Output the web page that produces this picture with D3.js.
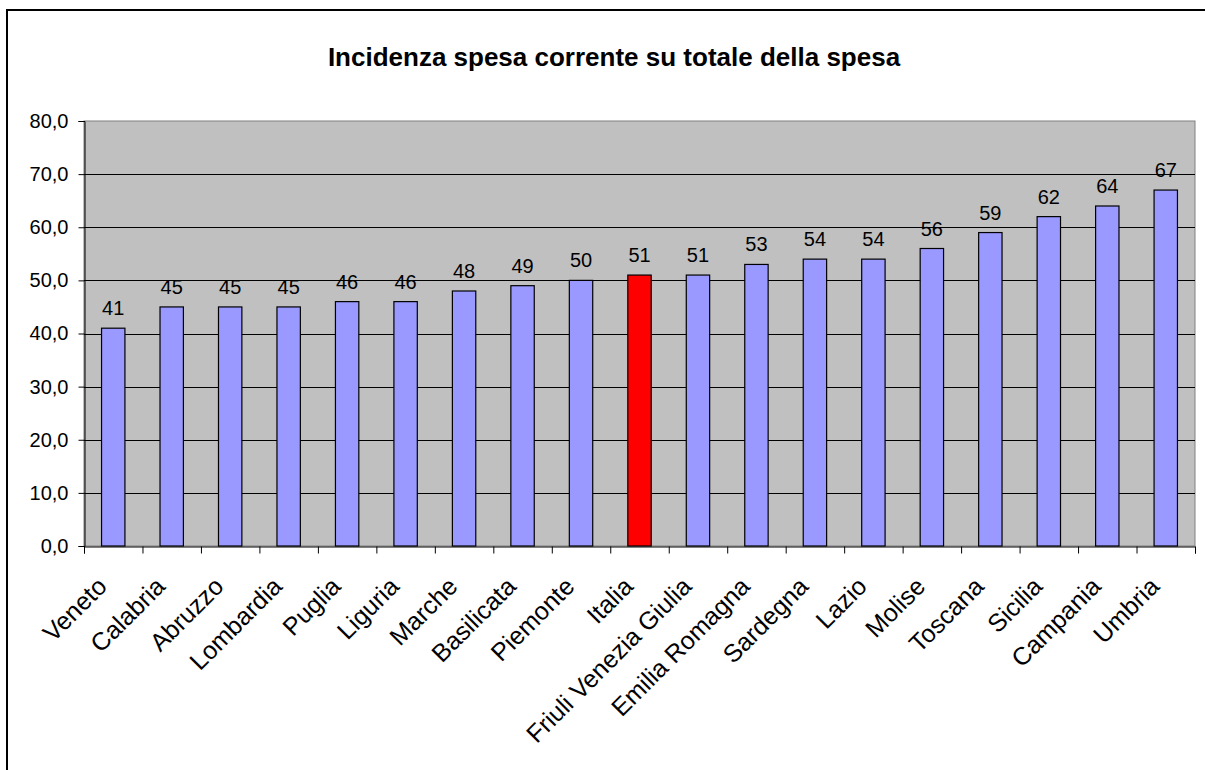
<!DOCTYPE html>
<html>
<head>
<meta charset="utf-8">
<script src="https://cdn.jsdelivr.net/npm/d3@7"></script>
<style>
  html, body { margin: 0; padding: 0; background: #fff; overflow: hidden; }
  svg { display: block; font-family: "Liberation Sans", Arial, sans-serif; }
</style>
</head>
<body>
<svg id="chart" width="1205" height="770"></svg>
<script>
// Regioni ordinate per incidenza della spesa corrente (%)
const regions = ["Veneto", "Calabria", "Abruzzo", "Lombardia", "Puglia", "Liguria", "Marche",
  "Basilicata", "Piemonte", "Italia", "Friuli Venezia Giulia", "Emilia Romagna", "Sardegna",
  "Lazio", "Molise", "Toscana", "Sicilia", "Campania", "Umbria"];
const shares = [41, 45, 45, 45, 46, 46, 48, 49, 50, 51, 51, 53, 54, 54, 56, 59, 62, 64, 67];
const yTicks = [0, 10, 20, 30, 40, 50, 60, 70, 80];
const highlight = "Italia";
const title = "Incidenza spesa corrente su totale della spesa";

const svg = d3.select("#chart");
const plot = { left: 84, right: 1195, top: 121, bottom: 546 };

// outer frame of the chart object (left and top edges fall inside the view)
svg.append("path")
  .attr("d", "M7,770 V10 H1205")
  .attr("fill", "none").attr("stroke", "#000").attr("stroke-width", 2);

svg.append("text")
  .attr("x", 614).attr("y", 66)
  .attr("text-anchor", "middle")
  .attr("font-size", 26).attr("font-weight", "bold")
  .text(title);

const x = d3.scaleBand().domain(regions)
  .range([plot.left, plot.right]).paddingInner(0.6).paddingOuter(0.3);
const xEdge = d3.scaleLinear().domain([0, regions.length]).range([plot.left, plot.right]);
const y = d3.scaleLinear().domain([0, 80]).range([plot.bottom, plot.top]);

// plot area background
svg.append("rect")
  .attr("x", plot.left).attr("y", plot.top)
  .attr("width", plot.right - plot.left).attr("height", plot.bottom - plot.top)
  .attr("fill", "#C0C0C0").attr("stroke", "#808080").attr("stroke-width", 1);

// horizontal gridlines
svg.append("g").selectAll("line")
  .data(yTicks.filter(t => t > 0 && t < 80))
  .join("line")
  .attr("x1", plot.left).attr("x2", plot.right)
  .attr("y1", d => Math.round(y(d)) + 0.5).attr("y2", d => Math.round(y(d)) + 0.5)
  .attr("stroke", "#000").attr("stroke-width", 1);

// bars
svg.append("g").selectAll("rect")
  .data(regions.map((r, i) => ({ r, v: shares[i] })))
  .join("rect")
  .attr("x", d => x(d.r))
  .attr("y", d => y(d.v))
  .attr("width", x.bandwidth())
  .attr("height", d => y(0) - y(d.v))
  .attr("fill", d => d.r === highlight ? "#FF0000" : "#9999FF")
  .attr("stroke", "#000").attr("stroke-width", 1.2);

// value labels
svg.append("g").selectAll("text")
  .data(regions.map((r, i) => ({ r, v: shares[i] })))
  .join("text")
  .attr("x", d => x(d.r) + x.bandwidth() / 2)
  .attr("y", d => y(d.v) - 13)
  .attr("text-anchor", "middle")
  .attr("font-size", 20)
  .text(d => d.v);

// y axis
const yAxis = svg.append("g")
  .attr("transform", `translate(${plot.left + 0.5},0)`)
  .call(d3.axisLeft(y).tickValues(yTicks).tickSize(6).tickPadding(10)
    .tickFormat(d => d.toFixed(1).replace(".", ",")));
yAxis.select(".domain").attr("stroke", "#000");
yAxis.selectAll(".tick line").attr("stroke", "#000");
yAxis.selectAll("text").attr("font-size", 20).attr("font-family", "Liberation Sans, Arial, sans-serif").attr("fill", "#000");

// x axis with ticks at category boundaries
const xAxis = svg.append("g")
  .attr("transform", `translate(0,${plot.bottom + 0.5})`)
  .call(d3.axisBottom(xEdge).tickValues(d3.range(regions.length + 1)).tickSize(7).tickFormat(""));
xAxis.select(".domain").attr("stroke", "#000");
xAxis.selectAll(".tick line").attr("stroke", "#000");

// rotated category labels
svg.append("g").selectAll("text")
  .data(regions)
  .join("text")
  .attr("transform", d => `translate(${x(d) + x.bandwidth() / 2 - 5},${plot.bottom + 42}) rotate(-45)`)
  .attr("text-anchor", "end")
  .attr("font-size", 25)
  .text(d => d);
</script>
</body>
</html>
